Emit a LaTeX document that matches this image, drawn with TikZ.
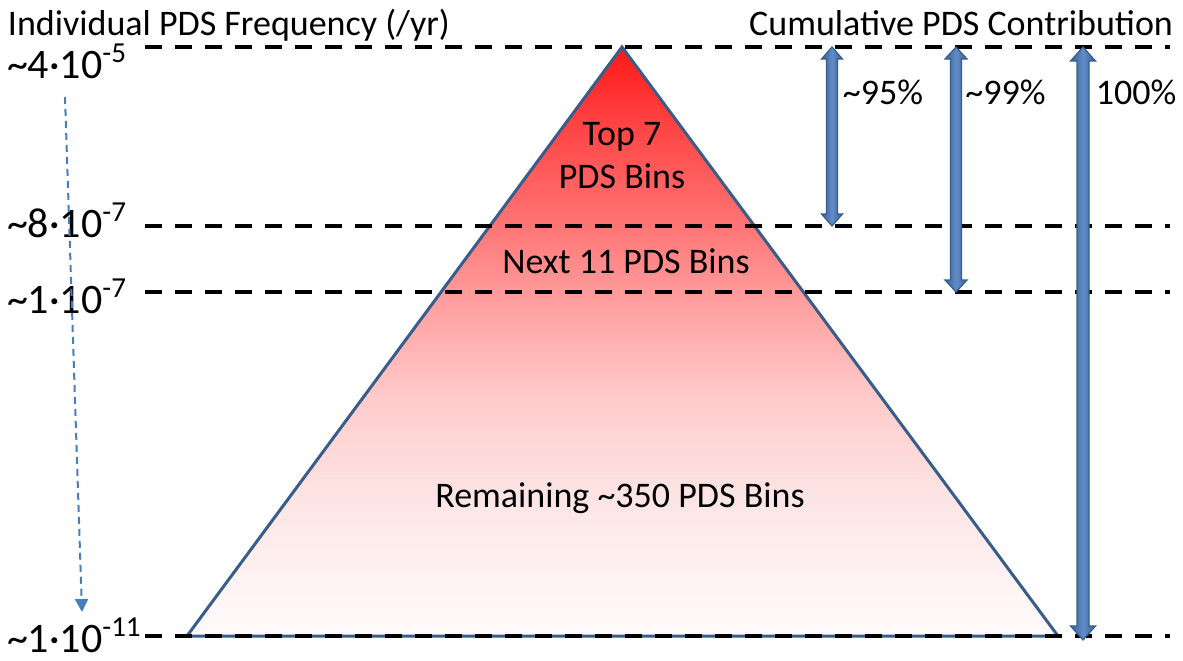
\documentclass[tikz,border=0pt]{standalone}
\usepackage{fontspec}
\setmainfont{Carlito}
\usetikzlibrary{arrows.meta,calc}

% colours
\definecolor{edgeblue}{RGB}{56,93,138}
\definecolor{arrowdark}{RGB}{58,96,146}
\definecolor{arrowlight}{RGB}{96,140,200}
\definecolor{flowblue}{RGB}{74,126,187}
\definecolor{pfA}{RGB}{255,24,24}
\definecolor{pfB}{RGB}{255,70,70}
\definecolor{pfC}{RGB}{255,117,117}
\definecolor{pfD}{RGB}{255,154,154}
\definecolor{pfE}{RGB}{255,204,204}
\definecolor{pfF}{RGB}{253,228,228}
\definecolor{pfG}{RGB}{255,246,246}
\definecolor{pfH}{RGB}{255,250,250}

% red-to-white fade of the pyramid (0bp = bottom, path spans 25bp..75bp)
\pgfdeclareverticalshading{pyramidfade}{100bp}{%
  color(0bp)=(pfH); color(25bp)=(pfH); color(28bp)=(pfG); color(36.8bp)=(pfF);
  color(45bp)=(pfE); color(54.2bp)=(pfD); color(59.8bp)=(pfC); color(68bp)=(pfB);
  color(75bp)=(pfA); color(100bp)=(pfA)}

% frequency label of the form ~a.10^-b
\newcommand\freqlabel[2]{\textasciitilde#1·10\raisebox{0.36em}{\fontsize{14.5}{14.5}\selectfont -#2}}

% double-headed block arrow: #1 top coordinate, #2 bottom coordinate,
% #3 shaft half width, #4 head half width, #5 head length
\newcommand\blockarrow[5]{%
  \path[blockarrowstyle] (#1) -- ++(#4,#5) -- ++(-#4+#3,0)
    -- ($(#2)+(#3,-#5)$) -- ++(#4-#3,0) -- (#2) -- ++(-#4,-#5) -- ++(#4-#3,0)
    -- ($(#1)+(-#3,#5)$) -- ++(-#4+#3,0) -- cycle;}

\begin{document}
\begin{tikzpicture}[x=0.5pt,y=-0.5pt,
  txt/.style={inner sep=0pt,outer sep=0pt,font=\fontsize{18}{21.6}\selectfont},
  freqtxt/.style={inner sep=0pt,outer sep=0pt,font=\fontsize{21}{25}\selectfont,anchor=base west},
  levelline/.style={black,line width=1.8pt,dash pattern=on 8.5pt off 6.5pt},
  pyramid/.style={draw=edgeblue,line width=1.5pt,shading=pyramidfade},
  blockarrowstyle/.style={draw=edgeblue,line width=0.6pt,
    left color=arrowdark,right color=arrowdark,middle color=arrowlight},
  flowarrow/.style={flowblue,line width=1pt,dash pattern=on 3.5pt off 2.5pt,
    -{Triangle[width=6.5pt,length=6.5pt]}}]

\useasboundingbox (0,0) rectangle (1183,660);

% pyramid corners
\coordinate (apex) at (622,47);
\coordinate (baseL) at (187,636);
\coordinate (baseR) at (1058,636);
\path[pyramid] (apex) -- (baseR) -- (baseL) -- cycle;

% frequency levels
\foreach \name/\yy in {top/47,mid/226,low/292,bot/636}{
  \coordinate (\name W) at (145,\yy);
  \coordinate (\name E) at (1170,\yy);
  \draw[levelline] (\name W) -- (\name E);
}

% headings
\node[txt,anchor=base west] (freqhead) at (8,35) {Individual PDS Frequency (/yr)};
\node[txt,anchor=base east] (cumhead) at (1173,35) {Cumulative PDS Contribution};

% frequency values
\node[freqtxt] (f1) at (7,78) {\freqlabel{4}{5}};
\node[freqtxt] (f2) at (7,237) {\freqlabel{8}{7}};
\node[freqtxt] (f3) at (7,313) {\freqlabel{1}{7}};
\node[freqtxt] (f4) at (7,652) {\freqlabel{1}{11}};

% decreasing frequency direction
\coordinate (flowS) at (65,97);
\coordinate (flowE) at (82,612);
\draw[flowarrow] (flowS) -- (flowE);

% bins inside the pyramid
\node[txt,anchor=base] (top7a) at (622,145) {Top 7};
\node[txt,anchor=base] (top7b) at (622,188) {PDS Bins};
\node[txt,anchor=base] (next11) at (626,273) {Next 11 PDS Bins};
\node[txt,anchor=base] (rest) at (620,507) {Remaining \textasciitilde350 PDS Bins};

% cumulative contribution arrows
\coordinate (c95t) at (832,47);  \coordinate (c95b) at (832,226);
\coordinate (c99t) at (956,47);  \coordinate (c99b) at (956,292);
\coordinate (c100t) at (1083,47); \coordinate (c100b) at (1083,640);
\blockarrow{c95t}{c95b}{5.5}{10.5}{12}
\blockarrow{c99t}{c99b}{5.5}{11}{12}
\blockarrow{c100t}{c100b}{6}{12.5}{14}

\node[txt,anchor=base] (p95) at (883,104) {\textasciitilde95\%};
\node[txt,anchor=base] (p99) at (1005.5,104) {\textasciitilde99\%};
\node[txt,anchor=base] (p100) at (1136,104) {100\%};

\end{tikzpicture}
\end{document}
